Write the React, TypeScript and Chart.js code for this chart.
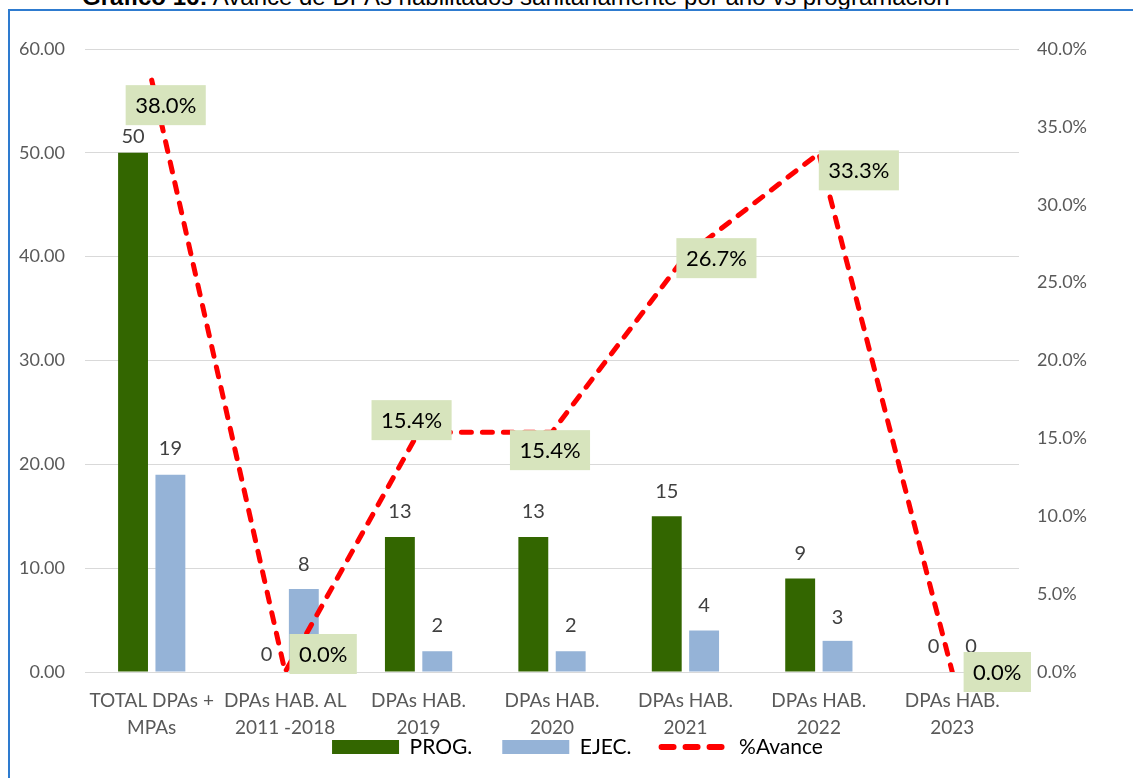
import React, { useEffect, useRef } from "react";
import { Chart, registerables } from "chart.js";

Chart.register(...registerables);

// ---------- data ----------
const categories: string[][] = [
  ["TOTAL DPAs +", "MPAs"],
  ["DPAs HAB. AL", "2011 -2018"],
  ["DPAs HAB.", "2019"],
  ["DPAs HAB.", "2020"],
  ["DPAs HAB.", "2021"],
  ["DPAs HAB.", "2022"],
  ["DPAs HAB.", "2023"],
];
const progValues = [50, 0, 13, 13, 15, 9, 0];
const ejecValues = [19, 8, 2, 2, 4, 3, 0];
const avancePct = [38.0, 0.0, 15.4, 15.4, 26.7, 33.3, 0.0];
const seriesNames = ["PROG.", "EJEC.", "%Avance"];
const leftAxisMax = 60;
const leftAxisStep = 10;
const rightAxisMax = 40;
const rightAxisStep = 5;
const titleBold = "Gráfico 16:";
const titleRest = " Avance de DPAs habilitados sanitariamente por año vs programación";

// ---------- styles / layout ----------
const FONT = "Lato, 'Open Sans', sans-serif";
const GREEN = "#336600";
const BLUE = "#95B3D7";
const RED = "#FF0000";
const BOX = "#D7E4BD";
const pctLabelOffsets: [number, number][] = [
  [14, 25],
  [38, -18],
  [-7, -12],
  [-2, 18],
  [31, 2],
  [40, 17],
  [45, 0],
];
const barLabelLift: number[][] = [
  [16, 17, 25, 25, 25, 25, 25],
  [26, 24, 26, 26, 25, 23, 25],
];

const labelsPlugin = {
  id: "valueLabels",
  afterDatasetsDraw(chart: any) {
    const ctx = chart.ctx as CanvasRenderingContext2D;
    ctx.save();
    ctx.textAlign = "center";
    ctx.textBaseline = "middle";
    [0, 1].forEach((di) => {
      const meta = chart.getDatasetMeta(di);
      meta.data.forEach((el: any, i: number) => {
        const v = chart.data.datasets[di].data[i];
        ctx.font = `20px ${FONT}`;
        ctx.fillStyle = "#404040";
        ctx.fillText(String(v), el.x, el.y - (barLabelLift[di][i] ?? 24));
      });
    });
    const lm = chart.getDatasetMeta(2);
    lm.data.forEach((pt: any, i: number) => {
      const v = chart.data.datasets[2].data[i] as number;
      const text = v.toFixed(1) + "%";
      ctx.font = `22px ${FONT}`;
      const w = ctx.measureText(text).width + 19;
      const h = 40;
      const off = pctLabelOffsets[i] || [0, 0];
      const cx = pt.x + off[0];
      const cy = pt.y + off[1];
      ctx.fillStyle = BOX;
      ctx.fillRect(cx - w / 2, cy - h / 2, w, h);
      ctx.fillStyle = "#000000";
      ctx.fillText(text, cx, cy + 1);
    });
    ctx.restore();
  },
};

// moves the legend up so it sits just below the two-line category labels
const legendPlace = {
  id: "legendPlace",
  afterLayout(chart: any) {
    const lg = chart.legend;
    if (!lg) return;
    const dy = lg.top - (chart.chartArea.bottom + 34.5);
    lg.top -= dy;
    lg.bottom -= dy;
    lg.left += 11;
    lg.right += 11;
  },
};

export default function App() {
  const ref = useRef<HTMLCanvasElement | null>(null);

  useEffect(() => {
    if (!ref.current) return;
    const chart = new Chart(ref.current, {
      type: "bar",
      data: {
        labels: categories,
        datasets: [
          {
            type: "bar",
            label: seriesNames[0],
            data: progValues,
            backgroundColor: GREEN,
            yAxisID: "y",
            order: 1,
            categoryPercentage: 0.56,
            barPercentage: 0.8,
          },
          {
            type: "bar",
            label: seriesNames[1],
            data: ejecValues,
            backgroundColor: BLUE,
            yAxisID: "y",
            order: 1,
            categoryPercentage: 0.56,
            barPercentage: 0.8,
          },
          {
            type: "line",
            label: seriesNames[2],
            data: avancePct,
            borderColor: RED,
            backgroundColor: RED,
            borderWidth: 5,
            borderDash: [10, 11],
            borderCapStyle: "round",
            pointRadius: 0,
            tension: 0,
            yAxisID: "y1",
            order: 0,
          } as any,
        ],
      },
      options: {
        responsive: false,
        animation: false,
        layout: { padding: { top: 49, left: 0, right: 0, bottom: 0 } },
        plugins: {
          title: { display: false },
          tooltip: { enabled: false },
          legend: {
            position: "bottom",
            labels: {
              usePointStyle: true,
              pointStyleWidth: 67,
              boxHeight: 14,
              padding: 30,
              color: "#000000",
              font: { family: FONT, size: 21 },
              generateLabels: (c: any) =>
                c.data.datasets.map((ds: any, i: number) => {
                  const isLine = ds.type === "line";
                  return {
                    text: ds.label,
                    datasetIndex: i,
                    hidden: false,
                    fillStyle: isLine ? "rgba(0,0,0,0)" : ds.backgroundColor,
                    strokeStyle: isLine ? ds.borderColor : ds.backgroundColor,
                    lineWidth: isLine ? 6 : 0,
                    lineDash: isLine ? [12, 12] : [],
                    lineCap: isLine ? "round" : "butt",
                    pointStyle: isLine ? "line" : "rect",
                    fontColor: "#000000",
                  };
                }),
            },
          },
        },
        scales: {
          x: {
            grid: { display: false },
            border: { display: false },
            ticks: {
              color: "#595959",
              font: { family: FONT, size: 19, lineHeight: 1.45 },
              padding: 7,
              maxRotation: 0,
              autoSkip: false,
            },
            afterFit: (s: any) => {
              s.height = 72;
            },
          },
          y: {
            position: "left",
            min: 0,
            max: leftAxisMax,
            grid: { color: "#D9D9D9", lineWidth: 1, drawTicks: false },
            border: { display: false },
            ticks: {
              stepSize: leftAxisStep,
              color: "#595959",
              font: { family: FONT, size: 18 },
              padding: 20,
              callback: (v: any) => Number(v).toFixed(2),
            },
            afterFit: (s: any) => {
              s.width = 85;
            },
          },
          y1: {
            position: "right",
            min: 0,
            max: rightAxisMax,
            grid: { drawOnChartArea: false, drawTicks: false },
            border: { display: false },
            ticks: {
              stepSize: rightAxisStep,
              color: "#595959",
              font: { family: FONT, size: 18 },
              padding: 18,
              callback: (v: any) => Number(v).toFixed(1) + "%",
            },
            afterFit: (s: any) => {
              s.width = 114;
            },
          },
        },
      },
      plugins: [labelsPlugin, legendPlace],
    });
    return () => chart.destroy();
  }, []);

  return (
    <div
      style={{
        position: "absolute",
        left: 0,
        top: 0,
        width: 1133,
        height: 778,
        overflow: "hidden",
        background: "#ffffff",
      }}
    >
      <div
        style={{
          position: "absolute",
          left: 82,
          top: -14,
          fontFamily: "'Liberation Sans', Arial, sans-serif",
          fontSize: 24,
          lineHeight: "22px",
          whiteSpace: "nowrap",
          color: "#000",
        }}
      >
        <b>{titleBold}</b>
        {titleRest}
      </div>
      <div
        style={{
          position: "absolute",
          left: 8,
          top: 9,
          width: 1200,
          height: 900,
          borderLeft: "2px solid #2E7BCF",
          borderTop: "2px solid #2E7BCF",
        }}
      />
      <canvas
        ref={ref}
        width={1133}
        height={805}
        style={{ position: "absolute", left: 0, top: 0 }}
      />
    </div>
  );
}
